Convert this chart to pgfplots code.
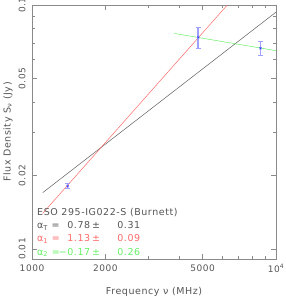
\documentclass[border=0pt]{standalone}
\usepackage{fontspec}
\setmainfont[LetterSpace=6]{DejaVu Sans}
\usepackage{pgfplots}
\pgfplotsset{compat=1.18}
\definecolor{axgray}{HTML}{8A8A8A}
\definecolor{txtgray}{HTML}{555555}
\definecolor{lred}{HTML}{FF6A6A}
\definecolor{lgreen}{HTML}{66F066}
\definecolor{ebblue}{HTML}{A0A0FF}
\definecolor{mblue}{HTML}{3030FF}
\definecolor{lgray}{HTML}{606060}
\newcommand{\arow}[3]{\makebox[28pt][l]{#1}\makebox[25pt][r]{#2}\makebox[12pt][c]{±}\makebox[38pt][r]{#3}}
\begin{document}
\begin{tikzpicture}
\begin{axis}[
  scale only axis, width=244pt, height=254pt,
  xmode=log, ymode=log,
  xmin=1000, xmax=10000, ymin=0.0091, ymax=0.1,
  xtick={1000,2000,5000,10000},
  xticklabels={1000,2000,5000,10\textsuperscript{4}},
  minor xtick={3000,4000,6000,7000,8000,9000},
  ytick={0.01,0.02,0.05,0.1},
  yticklabels={0.01,0.02,0.05,0.1},
  minor ytick={0.03,0.04,0.06,0.07,0.08,0.09},
  tick align=inside, major tick length=5pt, minor tick length=3pt,
  axis line style={axgray},
  every tick/.style={axgray, line width=0.5pt},
  tick label style={font=\fontsize{9}{10}\selectfont, text=txtgray},
  yticklabel style={anchor=center, xshift=-10pt, rotate=90},
  xticklabel style={anchor=north, yshift=-2pt},
  xlabel={Frequency ν (MHz)},
  ylabel={Flux Density S\textsubscript{ν} (Jy)},
  every axis x label/.style={at={(axis description cs:0.5,0)}, anchor=center, yshift=-33pt, font=\fontsize{9.5}{11}\selectfont, text=txtgray},
  every axis y label/.style={at={(axis description cs:0,0.5)}, anchor=center, xshift=-24pt, rotate=90, font=\fontsize{9.5}{11}\selectfont, text=txtgray},
]
\addplot[color=lgray, line width=0.5pt, no marks] coordinates {(1106,0.01702) (10000,0.0935)};
\addplot[color=lred, line width=0.5pt, no marks] coordinates {(1106,0.0140) (10000,0.168)};
\addplot[color=lgreen, line width=0.5pt, no marks] coordinates {(3830,0.0765) (10000,0.0650)};
\addplot[only marks, mark=x, mark size=1.5pt, color=mblue,
  error bars/.cd, y dir=both, y explicit,
  error bar style={ebblue, line width=1.5pt},
  error mark options={ebblue, rotate=90, mark size=2.5pt, line width=0.8pt}]
  coordinates {(1400,0.0181) +- (0,0.0004) (4800,0.0737) +- (0,0.0072) (8640,0.0665) +- (0,0.0042)};
\node[anchor=north west, inner sep=0pt, font=\fontsize{9.5}{13.3}\selectfont] at (rel axis cs:0.0205,0.21) {%
\begin{tabular}{@{}l@{}}
\textcolor{txtgray}{ESO 295-IG022-S (Burnett)}\\
\textcolor{txtgray}{\arow{α\textsubscript{T} =}{0.78}{0.31}}\\
\textcolor{lred}{\arow{α\textsubscript{1} =}{1.13}{0.09}}\\
\textcolor{lgreen}{\arow{α\textsubscript{2} =}{−0.17}{0.26}}
\end{tabular}};
\end{axis}
\pgfresetboundingbox
\useasboundingbox ([xshift=-32pt,yshift=-38pt]current axis.south west) rectangle ++(285pt,297pt);
\end{tikzpicture}
\end{document}
